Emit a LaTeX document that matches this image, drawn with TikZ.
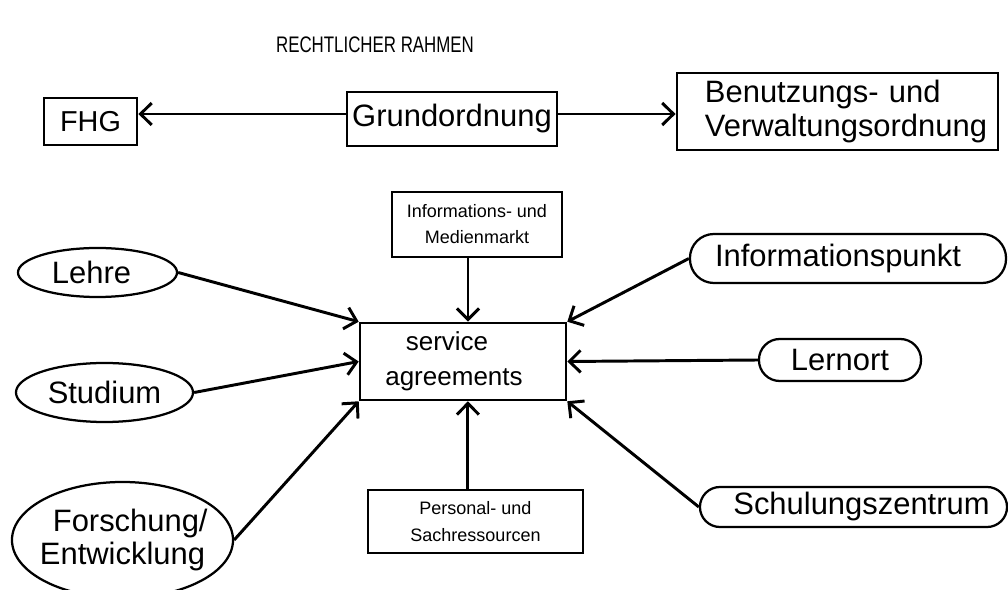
\documentclass[tikz,border=0pt]{standalone}
\usepackage{fontspec}
\setmainfont{Liberation Sans}
\newfontfamily\titlefont[FakeStretch=0.75]{Liberation Sans}
\usepackage{tikz}
\usetikzlibrary{shapes,arrows.meta,positioning}

\begin{document}
\begin{tikzpicture}[
    x=0.025cm, y=-0.025cm,
    box/.style={rectangle, draw, line width=2pt, inner sep=0pt, font=\fontsize{22}{25}\selectfont},
    smallbox/.style={rectangle, draw, line width=2pt, inner sep=0pt, align=center, font=\fontsize{12.8}{18.5}\selectfont},
    oval/.style={ellipse, draw, line width=1.6pt, inner sep=0pt, align=center, font=\fontsize{22}{23.5}\selectfont},
    pill/.style={rectangle, draw, line width=1.6pt, inner sep=0pt, font=\fontsize{22}{25}\selectfont},
    arrow/.style={-{Straight Barb[length=0.28cm, width=0.55cm]}, line width=2.1pt}
]
    \useasboundingbox (0,0) rectangle (1008,590);

    % Title
    \node[font=\titlefont\fontsize{16}{18}\selectfont] (title) at (375,45) {RECHTLICHER RAHMEN};

    % Legal frame
    \node[box, minimum width=2.325cm, minimum height=1.175cm, font=\fontsize{20.5}{25}\selectfont] (fhg) at (90.5,121.5) {FHG};
    \node[box, minimum width=5.25cm, minimum height=1.35cm] (grund) at (452,119) {Grundordnung};
    \node[box, minimum width=8.025cm, minimum height=1.925cm, inner xsep=0.7cm, text width=6.625cm, align=left,
          font=\fontsize{22}{23.5}\selectfont] (benutz) at (837.5,111.5) {Benutzungs- und\\Verwaltungsordnung};

    % Centre
    \node[box, minimum width=5.15cm, minimum height=1.925cm, align=center, line width=1.8pt,
          font=\fontsize{18.5}{25}\selectfont] (service) at (463,361.5) {service\hspace*{0.8cm}\\agreements\hspace*{0.45cm}};
    \node[smallbox, minimum width=4.25cm, minimum height=1.625cm] (markt) at (477,224.5) {Informations- und\\Medienmarkt};
    \node[smallbox, minimum width=5.375cm, minimum height=1.575cm, font=\fontsize{12.8}{19}\selectfont] (pers) at (475.5,521.5) {Personal- und\\Sachressourcen};

    % Left side
    \node[oval, minimum width=3.975cm, minimum height=1.225cm] (lehre) at (97.5,272.5) {Lehre\hspace*{0.3cm}};
    \node[oval, minimum width=4.425cm, minimum height=1.475cm] (stud) at (104.5,392.5) {Studium};
    \node[oval, inner sep=-0.5cm, minimum width=5.525cm, minimum height=2.9cm] (forsch) at (122.5,540) {\hspace*{0.5em}Forschung/\\Entwicklung};

    % Right side
    \node[pill, rounded corners=0.6cm, minimum width=7.9cm, minimum height=1.225cm] (info) at (848,258.5) {Informationspunkt\hspace*{0.5cm}};
    \node[pill, rounded corners=0.52cm, minimum width=4.05cm, minimum height=1.05cm] (lern) at (840,360) {Lernort};
    \node[pill, rounded corners=0.5cm, minimum width=7.675cm, minimum height=1cm] (schul) at (853.5,507) {\hspace*{0.4cm}Schulungszentrum};

    % Arrows
    \draw[arrow] ([yshift=0.125cm]grund.west) -- ([yshift=0.125cm]grund.west -| fhg.east);
    \draw[arrow] ([yshift=0.125cm]grund.east) -- ([yshift=0.125cm]grund.east -| benutz.west);
    \draw[arrow] ([xshift=-0.225cm]markt.south) -- ([xshift=-0.225cm]markt.south |- service.north);
    \draw[arrow] ([xshift=-0.19cm]pers.north) -- ([xshift=-0.19cm]pers.north |- service.south);
    \draw[arrow] (lehre.east) -- (service.north west);
    \draw[arrow] (stud.east) -- (service.west);
    \draw[arrow] (forsch.east) -- (service.south west);
    \draw[arrow] (info.west) -- (service.north east);
    \draw[arrow] (lern.west) -- (service.east);
    \draw[arrow] (schul.west) -- (service.south east);
\end{tikzpicture}
\end{document}
